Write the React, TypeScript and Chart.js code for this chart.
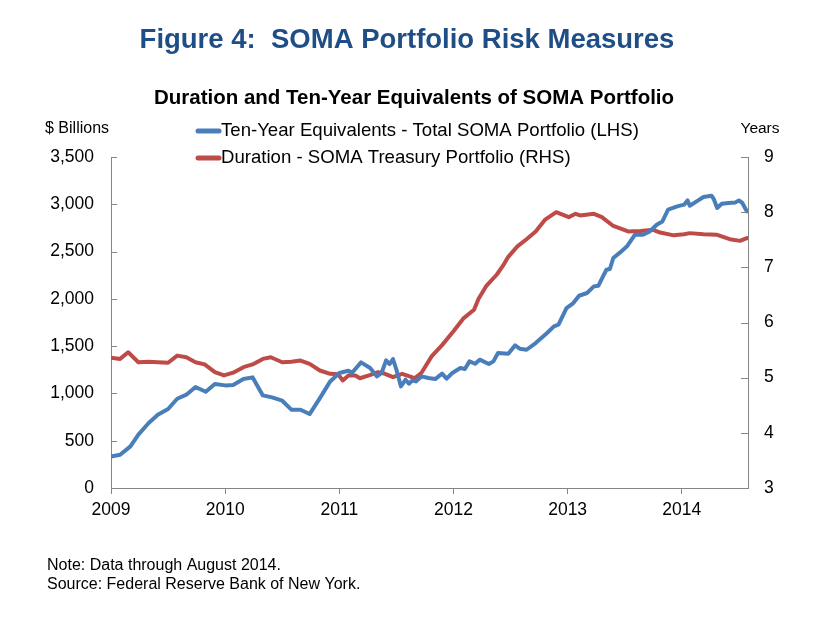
import React, { useEffect, useRef } from 'react';
import { Chart, registerables } from 'chart.js';

Chart.register(...registerables);

// Ten-Year Equivalents - Total SOMA Portfolio ($ billions, LHS)
const equivDates = [
  2009.0, 2009.08, 2009.17, 2009.24, 2009.33, 2009.41, 2009.5, 2009.58, 2009.66, 2009.74,
  2009.83, 2009.91, 2010.0, 2010.07, 2010.16, 2010.24, 2010.33, 2010.41, 2010.5, 2010.58,
  2010.66, 2010.74, 2010.83, 2010.92, 2011.0, 2011.08, 2011.11, 2011.19, 2011.27, 2011.33,
  2011.37, 2011.41, 2011.44, 2011.47, 2011.5, 2011.54, 2011.58, 2011.61, 2011.64, 2011.67,
  2011.72, 2011.78, 2011.84, 2011.9, 2011.94, 2011.99, 2012.06, 2012.1, 2012.14, 2012.19,
  2012.23, 2012.31, 2012.35, 2012.39, 2012.48, 2012.54, 2012.58, 2012.64, 2012.72, 2012.82,
  2012.88, 2012.92, 2012.99, 2013.05, 2013.1, 2013.17, 2013.23, 2013.27, 2013.31, 2013.34,
  2013.37, 2013.4, 2013.46, 2013.52, 2013.59, 2013.66, 2013.72, 2013.78, 2013.83, 2013.88,
  2013.96, 2014.02, 2014.05, 2014.07, 2014.13, 2014.19, 2014.26, 2014.28, 2014.31, 2014.35,
  2014.41, 2014.47, 2014.5, 2014.53, 2014.57,
];
const equivValues = [
  334, 352, 440, 564, 687, 775, 835, 944, 987, 1068,
  1018, 1100, 1085, 1089, 1152, 1170, 979, 958, 923, 828,
  828, 782, 951, 1127, 1216, 1240, 1216, 1328, 1269, 1180,
  1216, 1349, 1311, 1364, 1251, 1074, 1145, 1103, 1138, 1127,
  1180, 1163, 1152, 1209, 1156, 1216, 1269, 1258, 1339, 1314,
  1357, 1311, 1339, 1427, 1420, 1508, 1473, 1462, 1533, 1639,
  1709, 1727, 1903, 1956, 2033, 2062, 2132, 2139, 2237, 2308,
  2316, 2432, 2491, 2555, 2678, 2678, 2713, 2784, 2819, 2943,
  2978, 2996, 3041, 2985, 3031, 3077, 3091, 3056, 2961, 3006,
  3014, 3020, 3041, 3014, 2925,
];

// Duration - SOMA Treasury Portfolio (years, RHS)
const durationDates = [
  2009.0, 2009.08, 2009.15, 2009.24, 2009.33, 2009.41, 2009.5, 2009.58, 2009.66, 2009.74,
  2009.82, 2009.91, 2009.99, 2010.07, 2010.16, 2010.24, 2010.33, 2010.4, 2010.5, 2010.58,
  2010.66, 2010.74, 2010.83, 2010.92, 2010.99, 2011.03, 2011.08, 2011.14, 2011.18, 2011.26,
  2011.34, 2011.4, 2011.47, 2011.55, 2011.59, 2011.66, 2011.72, 2011.81, 2011.9, 2012.0,
  2012.09, 2012.18, 2012.22, 2012.29, 2012.38, 2012.44, 2012.48, 2012.56, 2012.64, 2012.72,
  2012.8, 2012.9, 2013.01, 2013.07, 2013.11, 2013.23, 2013.3, 2013.4, 2013.53, 2013.64,
  2013.75, 2013.81, 2013.93, 2014.02, 2014.07, 2014.19, 2014.31, 2014.42, 2014.51, 2014.57,
];
const durationValues = [
  5.36, 5.34, 5.46, 5.28, 5.29, 5.28, 5.27, 5.4, 5.37, 5.28,
  5.24, 5.1, 5.04, 5.09, 5.19, 5.24, 5.34, 5.37, 5.28, 5.29,
  5.31, 5.25, 5.13, 5.07, 5.06, 4.95, 5.04, 5.04, 4.99, 5.04,
  5.1, 5.07, 5.01, 5.07, 5.04, 4.99, 5.09, 5.39, 5.59, 5.84,
  6.08, 6.23, 6.43, 6.67, 6.87, 7.05, 7.19, 7.38, 7.51, 7.65,
  7.86, 8.0, 7.91, 7.97, 7.94, 7.97, 7.91, 7.75, 7.65, 7.66,
  7.68, 7.63, 7.58, 7.6, 7.62, 7.6, 7.59, 7.51, 7.48, 7.53,
];

const xTickYears = [2009, 2010, 2011, 2012, 2013, 2014];
const leftTicks = [0, 500, 1000, 1500, 2000, 2500, 3000, 3500];
const rightTicks = [3, 4, 5, 6, 7, 8, 9];

const titleText = 'Figure 4:  SOMA Portfolio Risk Measures';
const subtitleText = 'Duration and Ten-Year Equivalents of SOMA Portfolio';
const leftUnit = '$ Billions';
const rightUnit = 'Years';
const equivLabel = 'Ten-Year Equivalents - Total SOMA Portfolio (LHS)';
const durationLabel = 'Duration - SOMA Treasury Portfolio (RHS)';
const noteLines = ['Note: Data through August 2014.', 'Source: Federal Reserve Bank of New York.'];

const FONT = '"Liberation Sans", Arial, Helvetica, sans-serif';
const BLUE = '#4A7EBB';
const RED = '#BE4B48';
const AXIS = '#868686';
const TITLE_COLOR = '#1F4E86';

const decor = {
  id: 'decor',
  afterDraw(chart: any) {
    const ctx = chart.ctx as CanvasRenderingContext2D;
    const { left, right } = chart.chartArea;
    const yl = chart.scales.y;
    const yr = chart.scales.y1;
    ctx.save();
    // inward tick marks on the vertical axes
    ctx.strokeStyle = AXIS;
    ctx.lineWidth = 1;
    ctx.beginPath();
    leftTicks.forEach((v) => {
      const py = Math.round(yl.getPixelForValue(v)) + 0.5;
      ctx.moveTo(left, py);
      ctx.lineTo(left + 6, py);
    });
    rightTicks.forEach((v) => {
      const py = Math.round(yr.getPixelForValue(v)) + 0.5;
      ctx.moveTo(right, py);
      ctx.lineTo(right - 7, py);
    });
    ctx.stroke();

    // titles
    ctx.textBaseline = 'middle';
    ctx.textAlign = 'center';
    ctx.fillStyle = TITLE_COLOR;
    ctx.font = `bold 27.5px ${FONT}`;
    ctx.fillText(titleText, 407, 40);
    ctx.fillStyle = '#000';
    ctx.font = `bold 20.5px ${FONT}`;
    ctx.fillText(subtitleText, 414, 98);

    // unit labels
    ctx.font = `16px ${FONT}`;
    ctx.textAlign = 'left';
    ctx.fillText(leftUnit, 45, 129);
    ctx.textAlign = 'center';
    ctx.font = `15.5px ${FONT}`;
    ctx.fillText(rightUnit, 760, 129);

    // legend
    const rows = [
      { label: equivLabel, color: BLUE, y: 131 },
      { label: durationLabel, color: RED, y: 158 },
    ];
    ctx.textAlign = 'left';
    ctx.font = `18.6px ${FONT}`;
    rows.forEach((r) => {
      ctx.strokeStyle = r.color;
      ctx.lineWidth = 5;
      ctx.lineCap = 'round';
      ctx.beginPath();
      ctx.moveTo(198, r.y);
      ctx.lineTo(219, r.y);
      ctx.stroke();
      ctx.fillStyle = '#000';
      ctx.fillText(r.label, 221, r.y);
    });

    // notes
    ctx.font = `16px ${FONT}`;
    ctx.fillText(noteLines[0], 47, 566);
    ctx.fillText(noteLines[1], 47, 585);
    ctx.restore();
  },
};

export default function App() {
  const ref = useRef<HTMLCanvasElement>(null);
  useEffect(() => {
    const canvas = ref.current;
    if (!canvas) return;
    const tickFont = { family: FONT, size: 17.5 };
    const chart = new Chart(canvas, {
      type: 'line',
      data: {
        datasets: [
          {
            label: equivLabel,
            data: equivDates.map((x, i) => ({ x, y: equivValues[i] })),
            yAxisID: 'y',
            borderColor: BLUE,
            backgroundColor: BLUE,
            borderWidth: 4,
            pointRadius: 0,
            tension: 0,
            borderJoinStyle: 'round',
            borderCapStyle: 'round',
          },
          {
            label: durationLabel,
            data: durationDates.map((x, i) => ({ x, y: durationValues[i] })),
            yAxisID: 'y1',
            borderColor: RED,
            backgroundColor: RED,
            borderWidth: 4,
            pointRadius: 0,
            tension: 0,
            borderJoinStyle: 'round',
            borderCapStyle: 'round',
          },
        ],
      },
      options: {
        responsive: false,
        animation: false,
        layout: { padding: { top: 157, left: 0, right: 0, bottom: 0 } },
        plugins: { legend: { display: false }, tooltip: { enabled: false }, title: { display: false } },
        scales: {
          x: {
            type: 'linear',
            min: 2009,
            max: 2014.58,
            afterBuildTicks: (s: any) => {
              s.ticks = xTickYears.map((v) => ({ value: v }));
            },
            afterFit: (s: any) => {
              s.height = 130;
            },
            grid: { drawOnChartArea: false, drawTicks: true, tickLength: 6, color: AXIS },
            border: { display: true, color: AXIS, width: 1 },
            ticks: {
              font: tickFont,
              color: '#000',
              padding: 6,
              maxRotation: 0,
              autoSkip: false,
              callback: (v: any) => String(v),
            },
          },
          y: {
            position: 'left',
            min: 0,
            max: 3500,
            afterBuildTicks: (s: any) => {
              s.ticks = leftTicks.map((v) => ({ value: v }));
            },
            afterFit: (s: any) => {
              s.width = 111;
            },
            grid: { drawOnChartArea: false, drawTicks: false },
            border: { display: true, color: AXIS, width: 1 },
            ticks: {
              font: tickFont,
              color: '#000',
              padding: 17,
              autoSkip: false,
              callback: (v: any) => Number(v).toLocaleString('en-US'),
            },
          },
          y1: {
            position: 'right',
            min: 3,
            max: 9,
            afterBuildTicks: (s: any) => {
              s.ticks = rightTicks.map((v) => ({ value: v }));
            },
            afterFit: (s: any) => {
              s.width = 76;
            },
            grid: { drawOnChartArea: false, drawTicks: false },
            border: { display: true, color: AXIS, width: 1 },
            ticks: {
              font: tickFont,
              color: '#000',
              padding: 16,
              autoSkip: false,
              callback: (v: any) => String(v),
            },
          },
        },
      },
      plugins: [decor],
    });
    return () => chart.destroy();
  }, []);
  return (
    <div style={{ position: 'absolute', left: 0, top: 0, width: 824, height: 618, background: '#fff' }}>
      <canvas ref={ref} width={824} height={618} style={{ display: 'block' }} />
    </div>
  );
}
